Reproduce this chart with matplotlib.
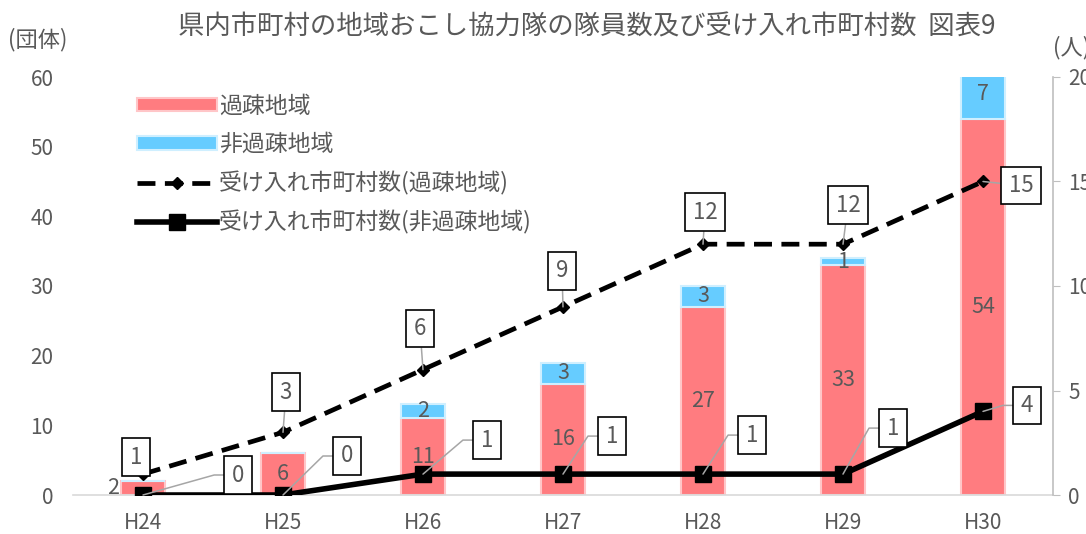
import math

import matplotlib
matplotlib.use("Agg")
import matplotlib.pyplot as plt
import numpy as np

plt.rcParams["font.family"] = ["Noto Sans CJK JP", "DejaVu Sans"]

years = ["H24", "H25", "H26", "H27", "H28", "H29", "H30"]
kaso_members = [2, 6, 11, 16, 27, 33, 54]
hikaso_members = [0, 0, 2, 3, 3, 1, 7]
kaso_towns = [1, 3, 6, 9, 12, 12, 15]
hikaso_towns = [0, 0, 1, 1, 1, 1, 4]

title = "県内市町村の地域おこし協力隊の隊員数及び受け入れ市町村数  図表9"
left_unit = "(団体)"
right_unit = "(人)"
legend_labels = ["過疎地域", "非過疎地域", "受け入れ市町村数(過疎地域)", "受け入れ市町村数(非過疎地域)"]

# label box offsets in pixels (dx, dy with y downward)
kaso_offsets = [(-7, -17), (3, -40), (-3, -41), (-1, -36), (2, -32), (5, -39), (38, 4)]
hikaso_offsets = [(95, -20), (64, -39), (64, -34), (49, -38), (49, -39), (50, -46), (44, -6)]

PINK = "#FF7C80"
BLUE = "#66CCFF"
TXT = "#595959"
GRID = "#D9D9D9"


def px(v):
    return v * 72 / 100


def box_label(ax, x, y, val, off, side=False):
    conn = "arc3"
    relpos = (0.5, 0.5)
    if side and off[0] > 30:
        # leader: diagonal from the point, then a short horizontal run into the box
        half = 8 * len(str(val)) + 6
        cx, cy = off[0] - half - 10, -off[1]
        ang = math.degrees(math.atan2(cy, cx))
        conn = "angle,angleA=0,angleB=%.1f,rad=0" % ang
        relpos = (0, 0.5)
    ax.annotate(str(val), xy=(x, y), xytext=(px(off[0]), -px(off[1])),
                textcoords="offset points", ha="center", va="center",
                fontsize=16, color=TXT, zorder=10,
                bbox=dict(boxstyle="square,pad=0.33", fc="white", ec="black", lw=1.2),
                arrowprops=dict(arrowstyle="-", color="#A6A6A6", lw=1.1,
                                shrinkA=0, shrinkB=0, relpos=relpos,
                                connectionstyle=conn))


fig = plt.figure(figsize=(10.86, 5.34), dpi=100)
ax = fig.add_axes([73 / 1086, 1 - 495 / 534, 980 / 1086, 418 / 534])
ax2 = ax.twinx()

x = np.arange(len(years))
w = 0.31
ax.bar(x, kaso_members, w, color=PINK, edgecolor="#FFC6C8", lw=1.5, label=legend_labels[0], zorder=2)
ax.bar(x, hikaso_members, w, bottom=kaso_members, color=BLUE, edgecolor="#CFEFFF", lw=1.5,
       label=legend_labels[1], zorder=2)

for i in range(len(years)):
    k = kaso_members[i]
    dx = -30 if i == 0 else 0
    ax.annotate(str(k), xy=(x[i], k / 2), xytext=(px(dx), 0), textcoords="offset points",
                ha="center", va="center", fontsize=15.5, color=TXT, zorder=5)
    h = hikaso_members[i]
    if h > 0:
        ax.text(x[i], k + h / 2, str(h), ha="center", va="center", fontsize=15.5, color=TXT, zorder=5)

ax.set_xlim(-0.5, 6.5)
ax.set_ylim(0, 60)
ax.set_yticks(np.arange(0, 61, 10))
ax.set_xticks(x)
ax.set_xticklabels(years)
ax.tick_params(axis="both", length=0, labelsize=15, labelcolor=TXT)
ax.tick_params(axis="x", pad=12)
ax.tick_params(axis="y", pad=14)
for s in ["top", "left", "right"]:
    ax.spines[s].set_visible(False)
ax.spines["bottom"].set_color(GRID)
ax.spines["bottom"].set_linewidth(1.2)

l1, = ax2.plot(x, kaso_towns, color="black", lw=3.4, ls=(0, (3.8, 2.0)), marker="D", ms=6,
               label=legend_labels[2], zorder=4)
l2, = ax2.plot(x, hikaso_towns, color="black", lw=4.0, marker="s", ms=11,
               label=legend_labels[3], zorder=4)
ax2.set_ylim(0, 20)
ax2.set_yticks(np.arange(0, 21, 5))
for s in ["top", "left", "bottom"]:
    ax2.spines[s].set_visible(False)
ax2.spines["right"].set_color("#BFBFBF")
ax2.spines["right"].set_linewidth(1.2)
ax2.tick_params(axis="y", length=5, color="#BFBFBF", labelsize=15, labelcolor=TXT, pad=6)

for i in range(len(years)):
    box_label(ax2, x[i], kaso_towns[i], kaso_towns[i], kaso_offsets[i])
    box_label(ax2, x[i], hikaso_towns[i], hikaso_towns[i], hikaso_offsets[i], side=True)

handles = ax.get_legend_handles_labels()[0] + [l1, l2]
leg = ax2.legend(handles, legend_labels, loc="upper left", bbox_to_anchor=(116 / 1086, 1 - 74 / 534),
                 bbox_transform=fig.transFigure, frameon=False, fontsize=16.5, labelcolor=TXT,
                 handlelength=3.5, handleheight=0.55, labelspacing=0.66, handletextpad=0.1)
leg.set_zorder(20)

fig.text(587 / 1086, 1 - 27 / 534, title, ha="center", va="center", fontsize=19, color=TXT)
fig.text(38 / 1086, 1 - 40 / 534, left_unit, ha="center", va="center", fontsize=16, color=TXT)
fig.text(1072 / 1086, 1 - 48 / 534, right_unit, ha="center", va="center", fontsize=16, color=TXT)

fig.savefig("out.png", dpi=100)
